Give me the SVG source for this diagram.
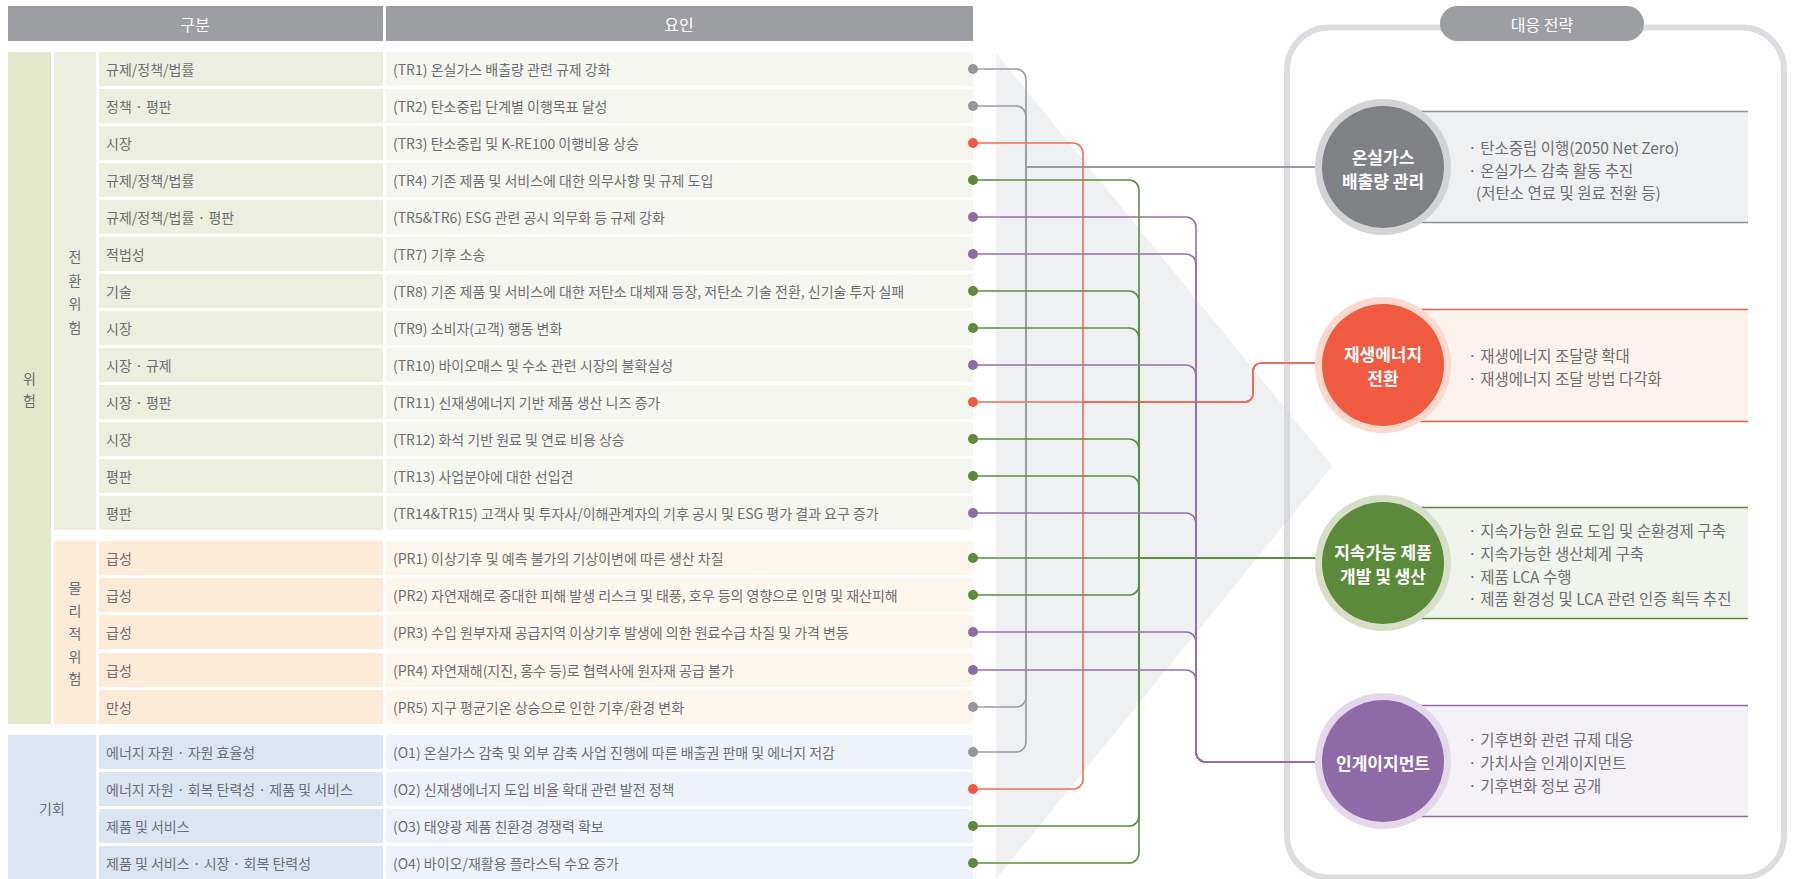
<svg xmlns="http://www.w3.org/2000/svg" width="1794" height="879" viewBox="0 0 1794 879">
<style>
text{font-family:"Noto Sans CJK KR","Noto Sans",sans-serif;dominant-baseline:central}
.t{font-size:14px;fill:#6d6e71}
.c{text-anchor:middle}
.h{font-size:16px;fill:#fff;text-anchor:middle}
.cw{font-size:17px;font-weight:700;fill:#fff;text-anchor:middle}
.b{font-size:15.5px;fill:#6d6e71}
.tc3{fill:#ecefdf}.tc4{fill:#f5f6ef}
.pc3{fill:#fdebd7}.pc4{fill:#fdf6ec}
.oc3{fill:#dce6f3}.oc4{fill:#eef2fa}
.lg{fill:none;stroke:#9a9b9f;stroke-width:1.6}
.lr{fill:none;stroke:#f26b57;stroke-width:1.6}
.ln{fill:none;stroke:#5d8c3c;stroke-width:1.6}
.lp{fill:none;stroke:#9271ab;stroke-width:1.6}
.dg{fill:#939598}.dr{fill:#f05a40}.dn{fill:#5a8a3a}.dp{fill:#8e6aa7}
</style>

<!-- header -->
<g id="header">
<rect x="8" y="6" width="375" height="35" fill="#9d9ea2"/>
<rect x="386" y="6" width="587" height="35" fill="#9d9ea2"/>
<text class="h" x="195" y="24">구분</text>
<text class="h" x="679" y="24">요인</text>
</g>

<!-- group columns -->
<g id="risk">
<rect x="8" y="52" width="43" height="672" fill="#e3e8cb"/>
<text class="t c" x="29.5" y="378">위</text>
<text class="t c" x="29.5" y="400">험</text>
</g>
<g id="transition-risk">
<rect x="54" y="52" width="42" height="478" fill="#ecefdf"/>
<text class="t c" x="75" y="256">전</text>
<text class="t c" x="75" y="279.5">환</text>
<text class="t c" x="75" y="303">위</text>
<text class="t c" x="75" y="326.5">험</text>
</g>
<g id="physical-risk">
<rect x="54" y="541" width="42" height="183" fill="#fdebd7"/>
<text class="t c" x="75" y="587">물</text>
<text class="t c" x="75" y="610">리</text>
<text class="t c" x="75" y="633">적</text>
<text class="t c" x="75" y="655.5">위</text>
<text class="t c" x="75" y="678">험</text>
</g>
<g id="opportunity">
<rect x="8" y="735" width="88" height="145" fill="#dce6f3"/>
<text class="t c" x="52" y="808">기회</text>
</g>

<!-- rows -->
<g id="TR1"><rect class="tc3" x="99" y="52" width="284" height="34"/><rect class="tc4" x="386" y="52" width="587" height="34"/><text class="t" x="106" y="69">규제/정책/법률</text><text class="t" x="393" y="69">(TR1) 온실가스 배출량 관련 규제 강화</text></g>
<g id="TR2"><rect class="tc3" x="99" y="89" width="284" height="34"/><rect class="tc4" x="386" y="89" width="587" height="34"/><text class="t" x="106" y="106">정책 · 평판</text><text class="t" x="393" y="106">(TR2) 탄소중립 단계별 이행목표 달성</text></g>
<g id="TR3"><rect class="tc3" x="99" y="126" width="284" height="34"/><rect class="tc4" x="386" y="126" width="587" height="34"/><text class="t" x="106" y="143">시장</text><text class="t" x="393" y="143">(TR3) 탄소중립 및 K-RE100 이행비용 상승</text></g>
<g id="TR4"><rect class="tc3" x="99" y="163" width="284" height="34"/><rect class="tc4" x="386" y="163" width="587" height="34"/><text class="t" x="106" y="180">규제/정책/법률</text><text class="t" x="393" y="180">(TR4) 기존 제품 및 서비스에 대한 의무사항 및 규제 도입</text></g>
<g id="TR5"><rect class="tc3" x="99" y="200" width="284" height="34"/><rect class="tc4" x="386" y="200" width="587" height="34"/><text class="t" x="106" y="217">규제/정책/법률 · 평판</text><text class="t" x="393" y="217">(TR5&amp;TR6) ESG 관련 공시 의무화 등 규제 강화</text></g>
<g id="TR7"><rect class="tc3" x="99" y="237" width="284" height="34"/><rect class="tc4" x="386" y="237" width="587" height="34"/><text class="t" x="106" y="254">적법성</text><text class="t" x="393" y="254">(TR7) 기후 소송</text></g>
<g id="TR8"><rect class="tc3" x="99" y="274" width="284" height="34"/><rect class="tc4" x="386" y="274" width="587" height="34"/><text class="t" x="106" y="291">기술</text><text class="t" x="393" y="291">(TR8) 기존 제품 및 서비스에 대한 저탄소 대체재 등장, 저탄소 기술 전환, 신기술 투자 실패</text></g>
<g id="TR9"><rect class="tc3" x="99" y="311" width="284" height="34"/><rect class="tc4" x="386" y="311" width="587" height="34"/><text class="t" x="106" y="328">시장</text><text class="t" x="393" y="328">(TR9) 소비자(고객) 행동 변화</text></g>
<g id="TR10"><rect class="tc3" x="99" y="348" width="284" height="34"/><rect class="tc4" x="386" y="348" width="587" height="34"/><text class="t" x="106" y="365">시장 · 규제</text><text class="t" x="393" y="365">(TR10) 바이오매스 및 수소 관련 시장의 불확실성</text></g>
<g id="TR11"><rect class="tc3" x="99" y="385" width="284" height="34"/><rect class="tc4" x="386" y="385" width="587" height="34"/><text class="t" x="106" y="402">시장 · 평판</text><text class="t" x="393" y="402">(TR11) 신재생에너지 기반 제품 생산 니즈 증가</text></g>
<g id="TR12"><rect class="tc3" x="99" y="422" width="284" height="34"/><rect class="tc4" x="386" y="422" width="587" height="34"/><text class="t" x="106" y="439">시장</text><text class="t" x="393" y="439">(TR12) 화석 기반 원료 및 연료 비용 상승</text></g>
<g id="TR13"><rect class="tc3" x="99" y="459" width="284" height="34"/><rect class="tc4" x="386" y="459" width="587" height="34"/><text class="t" x="106" y="476">평판</text><text class="t" x="393" y="476">(TR13) 사업분야에 대한 선입견</text></g>
<g id="TR14"><rect class="tc3" x="99" y="496" width="284" height="34"/><rect class="tc4" x="386" y="496" width="587" height="34"/><text class="t" x="106" y="513">평판</text><text class="t" x="393" y="513">(TR14&amp;TR15) 고객사 및 투자사/이해관계자의 기후 공시 및 ESG 평가 결과 요구 증가</text></g>
<g id="PR1"><rect class="pc3" x="99" y="541" width="284" height="34"/><rect class="pc4" x="386" y="541" width="587" height="34"/><text class="t" x="106" y="558">급성</text><text class="t" x="393" y="558">(PR1) 이상기후 및 예측 불가의 기상이변에 따른 생산 차질</text></g>
<g id="PR2"><rect class="pc3" x="99" y="578" width="284" height="34"/><rect class="pc4" x="386" y="578" width="587" height="34"/><text class="t" x="106" y="595">급성</text><text class="t" x="393" y="595">(PR2) 자연재해로 중대한 피해 발생 리스크 및 태풍, 호우 등의 영향으로 인명 및 재산피해</text></g>
<g id="PR3"><rect class="pc3" x="99" y="615" width="284" height="34"/><rect class="pc4" x="386" y="615" width="587" height="34"/><text class="t" x="106" y="632">급성</text><text class="t" x="393" y="632">(PR3) 수입 원부자재 공급지역 이상기후 발생에 의한 원료수급 차질 및 가격 변동</text></g>
<g id="PR4"><rect class="pc3" x="99" y="653" width="284" height="34"/><rect class="pc4" x="386" y="653" width="587" height="34"/><text class="t" x="106" y="670">급성</text><text class="t" x="393" y="670">(PR4) 자연재해(지진, 홍수 등)로 협력사에 원자재 공급 불가</text></g>
<g id="PR5"><rect class="pc3" x="99" y="690" width="284" height="34"/><rect class="pc4" x="386" y="690" width="587" height="34"/><text class="t" x="106" y="707">만성</text><text class="t" x="393" y="707">(PR5) 지구 평균기온 상승으로 인한 기후/환경 변화</text></g>
<g id="O1"><rect class="oc3" x="99" y="735" width="284" height="34"/><rect class="oc4" x="386" y="735" width="587" height="34"/><text class="t" x="106" y="752">에너지 자원 · 자원 효율성</text><text class="t" x="393" y="752">(O1) 온실가스 감축 및 외부 감축 사업 진행에 따른 배출권 판매 및 에너지 저감</text></g>
<g id="O2"><rect class="oc3" x="99" y="772" width="284" height="34"/><rect class="oc4" x="386" y="772" width="587" height="34"/><text class="t" x="106" y="789">에너지 자원 · 회복 탄력성 · 제품 및 서비스</text><text class="t" x="393" y="789">(O2) 신재생에너지 도입 비율 확대 관련 발전 정책</text></g>
<g id="O3"><rect class="oc3" x="99" y="809" width="284" height="34"/><rect class="oc4" x="386" y="809" width="587" height="34"/><text class="t" x="106" y="826">제품 및 서비스</text><text class="t" x="393" y="826">(O3) 태양광 제품 친환경 경쟁력 확보</text></g>
<g id="O4"><rect class="oc3" x="99" y="846" width="284" height="34"/><rect class="oc4" x="386" y="846" width="587" height="34"/><text class="t" x="106" y="863">제품 및 서비스 · 시장 · 회복 탄력성</text><text class="t" x="393" y="863">(O4) 바이오/재활용 플라스틱 수요 증가</text></g>

<!-- strategy panel -->
<g id="panel">
<rect x="1287" y="27.5" width="497" height="850" rx="42" fill="#fff" stroke="#dcdde0" stroke-width="6"/>
</g>
<polygon id="chevron" points="996,53 1332,466 996,879" fill="#c9ccd2" fill-opacity="0.3"/>
<g id="panel-title">
<rect x="1440" y="6" width="204" height="35" rx="17.5" fill="#9d9ea2"/>
<text class="h" x="1542" y="24">대응 전략</text>
</g>

<!-- connectors -->
<g id="connectors">
<path class="lg" d="M973 69 H1016 A10 10 0 0 1 1026 79 V167 H1316"/>
<path class="lg" d="M973 106 H1016 A10 10 0 0 1 1026 116 V167 H1316"/>
<path class="lg" d="M973 707 H1016 A10 10 0 0 0 1026 697 V167 H1316"/>
<path class="lg" d="M973 752 H1016 A10 10 0 0 0 1026 742 V167 H1316"/>

<path class="lr" d="M973 143 H1073 A10 10 0 0 1 1083 153 V402 H1245 A8 8 0 0 0 1253 394 V371 A8 8 0 0 1 1261 363 H1316"/>
<path class="lr" d="M973 402 H1245 A8 8 0 0 0 1253 394 V371 A8 8 0 0 1 1261 363 H1316"/>
<path class="lr" d="M973 789 H1073 A10 10 0 0 0 1083 779 V402 H1245 A8 8 0 0 0 1253 394 V371 A8 8 0 0 1 1261 363 H1316"/>

<path class="ln" d="M973 180 H1129 A10 10 0 0 1 1139 190 V558 H1316"/>
<path class="ln" d="M973 291 H1129 A10 10 0 0 1 1139 301 V558 H1316"/>
<path class="ln" d="M973 328 H1129 A10 10 0 0 1 1139 338 V558 H1316"/>
<path class="ln" d="M973 439 H1129 A10 10 0 0 1 1139 449 V558 H1316"/>
<path class="ln" d="M973 476 H1129 A10 10 0 0 1 1139 486 V558 H1316"/>
<path class="ln" d="M973 558 H1316"/>
<path class="ln" d="M973 595 H1129 A10 10 0 0 0 1139 585 V558 H1316"/>
<path class="ln" d="M973 826 H1129 A10 10 0 0 0 1139 816 V558 H1316"/>
<path class="ln" d="M973 863 H1129 A10 10 0 0 0 1139 853 V558 H1316"/>

<path class="lp" d="M973 217 H1186 A10 10 0 0 1 1196 227 V752 A10 10 0 0 0 1206 762 H1316"/>
<path class="lp" d="M973 254 H1186 A10 10 0 0 1 1196 264 V752 A10 10 0 0 0 1206 762 H1316"/>
<path class="lp" d="M973 365 H1186 A10 10 0 0 1 1196 375 V752 A10 10 0 0 0 1206 762 H1316"/>
<path class="lp" d="M973 513 H1186 A10 10 0 0 1 1196 523 V752 A10 10 0 0 0 1206 762 H1316"/>
<path class="lp" d="M973 632 H1186 A10 10 0 0 1 1196 642 V752 A10 10 0 0 0 1206 762 H1316"/>
<path class="lp" d="M973 670 H1186 A10 10 0 0 1 1196 680 V752 A10 10 0 0 0 1206 762 H1316"/>

<circle class="dg" cx="973" cy="69" r="5"/>
<circle class="dg" cx="973" cy="106" r="5"/>
<circle class="dr" cx="973" cy="143" r="5"/>
<circle class="dn" cx="973" cy="180" r="5"/>
<circle class="dp" cx="973" cy="217" r="5"/>
<circle class="dp" cx="973" cy="254" r="5"/>
<circle class="dn" cx="973" cy="291" r="5"/>
<circle class="dn" cx="973" cy="328" r="5"/>
<circle class="dp" cx="973" cy="365" r="5"/>
<circle class="dr" cx="973" cy="402" r="5"/>
<circle class="dn" cx="973" cy="439" r="5"/>
<circle class="dn" cx="973" cy="476" r="5"/>
<circle class="dp" cx="973" cy="513" r="5"/>
<circle class="dn" cx="973" cy="558" r="5"/>
<circle class="dn" cx="973" cy="595" r="5"/>
<circle class="dp" cx="973" cy="632" r="5"/>
<circle class="dp" cx="973" cy="670" r="5"/>
<circle class="dg" cx="973" cy="707" r="5"/>
<circle class="dg" cx="973" cy="752" r="5"/>
<circle class="dr" cx="973" cy="789" r="5"/>
<circle class="dn" cx="973" cy="826" r="5"/>
<circle class="dn" cx="973" cy="863" r="5"/>
</g>

<!-- strategies -->
<g id="S1">
<rect x="1383" y="111" width="365" height="112" fill="#eff0f1"/>
<path d="M1383 111.5 H1748 M1383 222.5 H1748" stroke="#8e8f93" stroke-width="1.4"/>
<circle cx="1383" cy="167" r="68" fill="#d3d4d6"/>
<circle cx="1383" cy="167" r="61" fill="#808184"/>
<text class="cw" x="1383" y="156">온실가스</text>
<text class="cw" x="1383" y="180">배출량 관리</text>
<text class="b" x="1468" y="147">· 탄소중립 이행(2050 Net Zero)</text>
<text class="b" x="1468" y="169.5">· 온실가스 감축 활동 추진</text>
<text class="b" x="1476" y="192">(저탄소 연료 및 원료 전환 등)</text>
</g>
<g id="S2">
<rect x="1383" y="309" width="365" height="113" fill="#fdf3ee"/>
<path d="M1383 309.5 H1748 M1383 421.5 H1748" stroke="#f05a40" stroke-width="1.4"/>
<circle cx="1383" cy="365" r="68" fill="#fcd9cc"/>
<circle cx="1383" cy="365" r="61" fill="#f05a40"/>
<text class="cw" x="1383" y="353">재생에너지</text>
<text class="cw" x="1383" y="377">전환</text>
<text class="b" x="1468" y="355">· 재생에너지 조달량 확대</text>
<text class="b" x="1468" y="378">· 재생에너지 조달 방법 다각화</text>
</g>
<g id="S3">
<rect x="1383" y="507" width="365" height="112" fill="#f1f4ec"/>
<path d="M1383 507.5 H1748 M1383 618.5 H1748" stroke="#5a8a3a" stroke-width="1.4"/>
<circle cx="1383" cy="563" r="68" fill="#d7dfc9"/>
<circle cx="1383" cy="563" r="61" fill="#5a8a3a"/>
<text class="cw" x="1383" y="551">지속가능 제품</text>
<text class="cw" x="1383" y="575">개발 및 생산</text>
<text class="b" x="1468" y="530">· 지속가능한 원료 도입 및 순환경제 구축</text>
<text class="b" x="1468" y="553">· 지속가능한 생산체계 구축</text>
<text class="b" x="1468" y="576">· 제품 LCA 수행</text>
<text class="b" x="1468" y="598">· 제품 환경성 및 LCA 관련 인증 획득 추진</text>
</g>
<g id="S4">
<rect x="1383" y="705" width="365" height="112" fill="#f4f1f7"/>
<path d="M1383 705.5 H1748 M1383 816.5 H1748" stroke="#8e6aa7" stroke-width="1.4"/>
<circle cx="1383" cy="761" r="68" fill="#e3d9ea"/>
<circle cx="1383" cy="761" r="61" fill="#8e6aa7"/>
<text class="cw" x="1383" y="762">인게이지먼트</text>
<text class="b" x="1468" y="739">· 기후변화 관련 규제 대응</text>
<text class="b" x="1468" y="762">· 가치사슬 인게이지먼트</text>
<text class="b" x="1468" y="785">· 기후변화 정보 공개</text>
</g>
</svg>
